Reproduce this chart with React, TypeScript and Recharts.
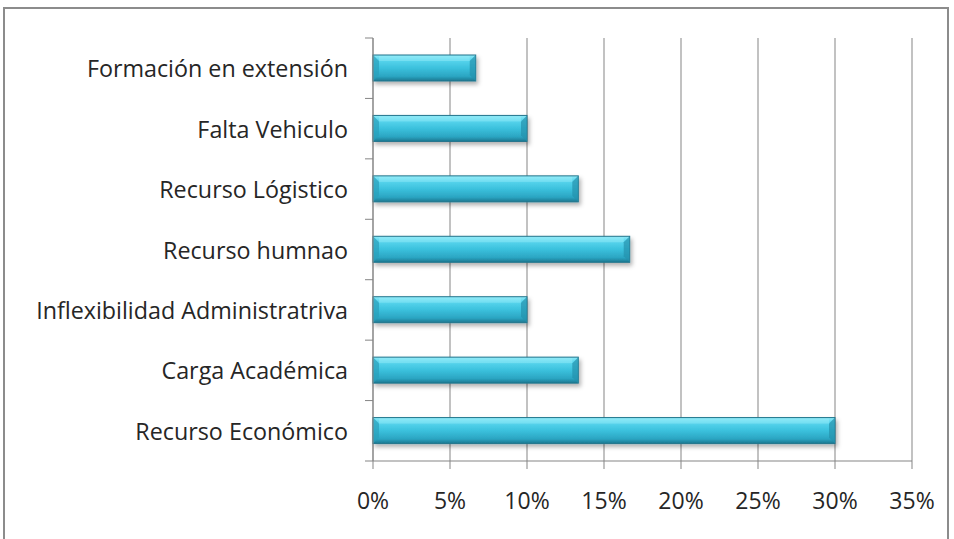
import React from 'react'
import { BarChart, Bar, XAxis, YAxis, CartesianGrid } from 'recharts'

const categories = [
  'Formación en extensión',
  'Falta Vehiculo',
  'Recurso Lógistico',
  'Recurso humnao',
  'Inflexibilidad Administratriva',
  'Carga Académica',
  'Recurso Económico',
]
const values = [0.0667, 0.1, 0.1333, 0.1667, 0.1, 0.1333, 0.3]
const xTicks = [0, 0.05, 0.1, 0.15, 0.2, 0.25, 0.3, 0.35]

const W = 954
const H = 539
const PLOT_LEFT = 373
const PLOT_TOP = 38
const PLOT_BOTTOM = 461
const BAND = (PLOT_BOTTOM - PLOT_TOP) / categories.length
const AXIS = '#858585'
const FONT = '"Open Sans", sans-serif'

const data = categories.map((name, i) => ({ name, value: values[i] }))

function CategoryTick({ y, payload, index }: any) {
  return (
    <g>
      <text
        x={PLOT_LEFT - 25}
        y={y}
        textAnchor="end"
        dominantBaseline="central"
        fill="#262626"
        fontSize={23.3}
        fontFamily={FONT}
      >
        {payload.value}
      </text>
      <line x1={PLOT_LEFT - 8} x2={PLOT_LEFT} y1={y - BAND / 2} y2={y - BAND / 2} stroke={AXIS} />
      {index === categories.length - 1 && (
        <line x1={PLOT_LEFT - 8} x2={PLOT_LEFT} y1={y + BAND / 2} y2={y + BAND / 2} stroke={AXIS} />
      )}
    </g>
  )
}

function BevelBar({ x, y, width, height }: any) {
  if (!width || width <= 0) return null
  const b = Math.min(6, width / 2)
  return (
    <g filter="url(#barShadow)">
      <rect x={x} y={y} width={width} height={height} fill="url(#barGrad)" stroke="#22758c" strokeWidth={1} />
      <polygon points={`${x},${y} ${x + b},${y + b} ${x + b},${y + height - b} ${x},${y + height}`} fill="#2a9fbb" opacity={0.7} />
      <polygon points={`${x + width},${y} ${x + width - b},${y + b} ${x + width - b},${y + height - b} ${x + width},${y + height}`} fill="#2592ad" opacity={0.7} />
      <rect x={x + b} y={y + 1} width={Math.max(0, width - 2 * b)} height={b - 1} fill="#9beef9" opacity={0.45} />
    </g>
  )
}

export default function App() {
  return (
    <div style={{ position: 'absolute', left: 0, top: 0, width: W, height: H, background: '#fff', overflow: 'hidden' }}>
      <div
        style={{
          position: 'absolute',
          left: 3,
          top: 7,
          width: 946,
          height: 560,
          border: '2px solid #8c8c8c',
          boxSizing: 'border-box',
        }}
      />
      <div style={{ position: 'absolute', left: 0, top: 0 }}>
        <BarChart
          width={W}
          height={H}
          data={data}
          layout="vertical"
          margin={{ top: PLOT_TOP, right: W - 912, bottom: H - PLOT_BOTTOM - 40, left: 0 }}
        >
          <defs>
            <linearGradient id="barGrad" x1="0" y1="0" x2="0" y2="1">
              <stop offset="0" stopColor="#8ee9f7" />
              <stop offset="0.18" stopColor="#5ad6ee" />
              <stop offset="0.5" stopColor="#3bc1dd" />
              <stop offset="0.82" stopColor="#2ba5c2" />
              <stop offset="1" stopColor="#1c7790" />
            </linearGradient>
            <filter id="barShadow" x="-5%" y="-20%" width="115%" height="160%">
              <feDropShadow dx="2" dy="3" stdDeviation="2" floodColor="#000" floodOpacity="0.3" />
            </filter>
          </defs>
          <CartesianGrid horizontal={false} stroke={AXIS} strokeWidth={1} />
          <XAxis
            type="number"
            domain={[0, 0.35]}
            ticks={xTicks}
            tickFormatter={(v: number) => `${Math.round(v * 100)}%`}
            height={40}
            tickSize={8}
            tickMargin={24}
            axisLine={{ stroke: AXIS }}
            tickLine={{ stroke: AXIS }}
            tick={{ fill: '#262626', fontSize: 23, fontFamily: FONT }}
            interval={0}
          />
          <YAxis
            type="category"
            dataKey="name"
            width={PLOT_LEFT}
            axisLine={{ stroke: AXIS }}
            tickLine={false}
            tick={<CategoryTick />}
            interval={0}
          />
          <Bar dataKey="value" barSize={26} shape={<BevelBar />} isAnimationActive={false} />
        </BarChart>
      </div>
    </div>
  )
}
